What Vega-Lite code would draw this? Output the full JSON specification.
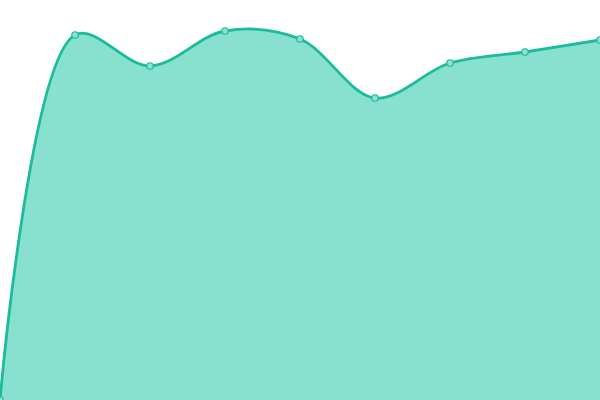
{
  "$schema": "https://vega.github.io/schema/vega-lite/v6.json",
  "width": 600,
  "height": 400,
  "padding": 0,
  "autosize": {"type": "fit", "contains": "padding"},
  "config": {"view": {"stroke": null}},
  "data": {"values": [
    {"i": 0, "v": 0},
    {"i": 1, "v": 91.25},
    {"i": 2, "v": 83.5},
    {"i": 3, "v": 92.25},
    {"i": 4, "v": 90.25},
    {"i": 5, "v": 75.5},
    {"i": 6, "v": 84.25},
    {"i": 7, "v": 87},
    {"i": 8, "v": 90}
  ]},
  "encoding": {
    "x": {"field": "i", "type": "quantitative", "scale": {"domain": [0, 8], "nice": false, "zero": false}, "axis": null},
    "y": {"field": "v", "type": "quantitative", "scale": {"domain": [0, 100], "nice": false}, "axis": null}
  },
  "layer": [
    {"mark": {"type": "area", "interpolate": "catmull-rom", "fill": "#88e0cf", "fillOpacity": 1, "line": {"color": "#1abc9c", "strokeWidth": 2.8}, "clip": true}},
    {"mark": {"type": "point", "shape": "circle", "filled": true, "size": 42, "fill": "#8ee0d0", "fillOpacity": 1, "stroke": "#1abc9c", "strokeWidth": 1.2, "opacity": 1, "clip": true}}
  ]
}
